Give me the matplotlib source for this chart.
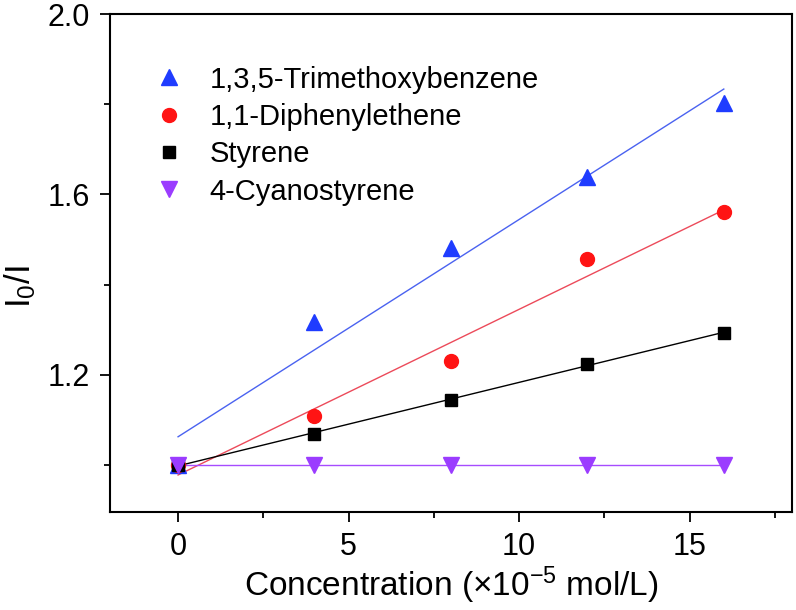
import matplotlib.pyplot as plt
from matplotlib.ticker import FixedLocator
import numpy as np

plt.rcParams['font.family'] = ['Liberation Sans', 'DejaVu Sans']
plt.rcParams['mathtext.default'] = 'regular'

conc = np.array([0, 4, 8, 12, 16])
tmb = np.array([1.0, 1.317, 1.481, 1.639, 1.803])
dpe = np.array([1.0, 1.109, 1.231, 1.457, 1.561])
sty = np.array([1.0, 1.069, 1.144, 1.224, 1.293])
cns = np.array([1.0, 1.0, 1.0, 1.0, 1.0])

names = ['1,3,5-Trimethoxybenzene', '1,1-Diphenylethene', 'Styrene', '4-Cyanostyrene']
series = [tmb, dpe, sty, cns]
markers = ['^', 'o', 's', 'v']
mcolors = ['#1f3cff', '#ff1414', '#000000', '#9b3cff']
lcolors = ['#4a62f0', '#ec4a5a', '#000000', '#a64cff']
msizes = [11, 10, 8, 11]

fig = plt.figure(figsize=(7.96, 6.10), dpi=100)
ax = fig.add_axes([0.138, 0.161, 0.857, 0.816])

for y, name, m, mc, lc, ms in zip(series, names, markers, mcolors, lcolors, msizes):
    k, b = np.polyfit(conc, y, 1)
    ax.plot(conc, k * conc + b, '-', color=lc, lw=1.0, zorder=2)
    ax.plot(conc, y, m, color=mc, ms=ms, mec=mc, ls='none', label=name, zorder=3)

ax.set_xlim(-2, 18)
ax.set_ylim(0.896, 2.0)
ax.xaxis.set_major_locator(FixedLocator([0, 5, 10, 15]))
ax.xaxis.set_minor_locator(FixedLocator([2.5, 7.5, 12.5, 17.5]))
ax.yaxis.set_major_locator(FixedLocator([1.2, 1.6, 2.0]))
ax.yaxis.set_minor_locator(FixedLocator([1.0, 1.4, 1.8]))
ax.set_yticklabels(['1.2', '1.6', '2.0'])

ax.tick_params(which='major', direction='out', length=7.5, width=1.3, labelsize=22, pad=7)
ax.tick_params(which='minor', direction='out', length=4, width=1.3)
for s in ax.spines.values():
    s.set_linewidth(1.5)

ax.set_xlabel('Concentration (\u00d710$^{-5}$ mol/L)', fontsize=24, labelpad=2)
ax.set_ylabel('I$_0$/I', fontsize=25)
ax.yaxis.set_label_coords(-0.106, 0.452)

ax.legend(loc='upper left', bbox_to_anchor=(0.048, 0.92), frameon=False, fontsize=21,
          handlelength=1.0, handletextpad=0.9, labelspacing=0.32, borderaxespad=0)

fig.savefig('out.png', dpi=100)
